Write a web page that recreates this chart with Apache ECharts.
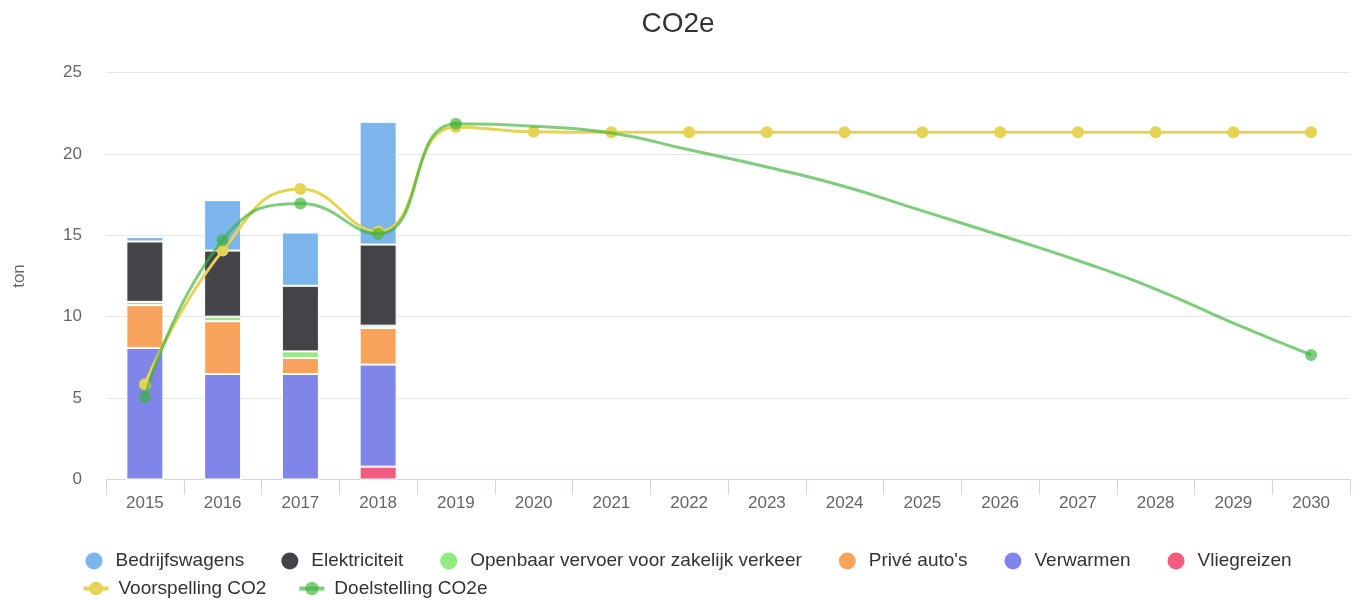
<!DOCTYPE html>
<html>
<head>
<meta charset="utf-8">
<script src="https://cdn.jsdelivr.net/npm/echarts@6/dist/echarts.min.js"></script>
<style>
html,body{margin:0;padding:0;background:#fff;}
#chart{width:1356px;height:601px;}
</style>
</head>
<body>
<div id="chart"></div>
<script>
const years = ['2015','2016','2017','2018','2019','2020','2021','2022','2023','2024','2025','2026','2027','2028','2029','2030'];

const bedrijfswagens = [0.27, 3.10, 3.27, 7.54];
const elektriciteit  = [3.71, 4.06, 4.03, 4.98];
const openbaarVervoer = [0.20, 0.28, 0.40, 0.15];
const priveAutos     = [2.63, 3.24, 0.99, 2.24];
const verwarmen      = [8.08, 6.48, 6.48, 6.27];
const vliegreizen    = [0, 0, 0, 0.79];

const voorspellingCO2 = [5.85, 14.06, 17.84, 15.23, 21.65, 21.36, 21.33, 21.33, 21.33, 21.33, 21.33, 21.33, 21.33, 21.33, 21.33, 21.33];
const doelstellingCO2e = [5.07, 14.70, 16.95, 15.09, 21.85, 21.70, 21.28, 20.25, 19.20, 18.00, 16.50, 15.00, 13.45, 11.70, 9.60, 7.65];

const yTicks = { min: 0, max: 25, interval: 5 };

const barNames = ['Bedrijfswagens', 'Elektriciteit', 'Openbaar vervoer voor zakelijk verkeer', "Privé auto's", 'Verwarmen', 'Vliegreizen'];
const lineNames = ['Voorspelling CO2', 'Doelstelling CO2e'];

const FONT = '"Liberation Sans", Arial, Helvetica, sans-serif';

function barSeries(name, data, color) {
  return {
    name: name,
    type: 'bar',
    stack: 'co2',
    data: data,
    barWidth: 37,
    itemStyle: { color: color, borderColor: '#ffffff', borderWidth: 1 },
    emphasis: { disabled: true },
    z: 2
  };
}

const lastIdx = doelstellingCO2e.length - 1;
const greenData = doelstellingCO2e.map((v, i) => (i <= 4 || i === lastIdx) ? v : { value: v, symbol: 'none' });

const chart = echarts.init(document.getElementById('chart'), null, { renderer: 'canvas' });
chart.setOption({
  animation: false,
  backgroundColor: '#ffffff',
  textStyle: { fontFamily: FONT },
  title: {
    text: 'CO2e',
    left: 'center',
    top: 5,
    textStyle: { fontFamily: FONT, fontSize: 28, fontWeight: 'normal', color: '#333333' }
  },
  legend: [
    {
      data: barNames,
      left: 85.5,
      top: 551.5,
      orient: 'horizontal',
      icon: 'circle',
      itemWidth: 17,
      itemHeight: 17,
      itemGap: 37,
      padding: 0,
      itemStyle: { borderWidth: 0 },
      textStyle: { fontFamily: FONT, fontSize: 19, color: '#333333', padding: [0, 0, 0, 8] }
    },
    {
      data: lineNames,
      left: 81.5,
      top: 579,
      orient: 'horizontal',
      itemWidth: 25,
      itemHeight: 17,
      itemGap: 31,
      padding: 0,
      lineStyle: { width: 4 },
      textStyle: { fontFamily: FONT, fontSize: 19, color: '#333333', padding: [0, 0, 0, 5] }
    }
  ],
  grid: { left: 106, right: 6, top: 72.5, bottom: 121.5, containLabel: false, outerBoundsMode: 'none' },
  xAxis: {
    type: 'category',
    data: years,
    boundaryGap: true,
    axisLine: { show: true, lineStyle: { color: '#ccd6eb', width: 1 } },
    axisTick: { show: true, alignWithLabel: false, length: 15, lineStyle: { color: '#ccd6eb', width: 1 } },
    axisLabel: { color: '#666666', fontSize: 17, fontFamily: FONT, margin: 15, interval: 0 },
    splitLine: { show: false }
  },
  yAxis: {
    type: 'value',
    min: yTicks.min,
    max: yTicks.max,
    interval: yTicks.interval,
    name: 'ton',
    nameLocation: 'middle',
    nameGap: 78,
    nameTextStyle: { color: '#666666', fontSize: 17, fontFamily: FONT },
    axisLine: { show: false },
    axisTick: { show: false },
    axisLabel: { color: '#666666', fontSize: 17, fontFamily: FONT, margin: 24 },
    splitLine: { show: true, lineStyle: { color: '#e6e6e6', width: 1 } }
  },
  series: [
    barSeries('Vliegreizen', vliegreizen, '#f15c80'),
    barSeries('Verwarmen', verwarmen, '#8085e9'),
    barSeries("Privé auto's", priveAutos, '#f7a35c'),
    barSeries('Openbaar vervoer voor zakelijk verkeer', openbaarVervoer, '#90ed7d'),
    barSeries('Elektriciteit', elektriciteit, '#434348'),
    barSeries('Bedrijfswagens', bedrijfswagens, '#7cb5ec'),
    {
      name: 'Voorspelling CO2',
      type: 'line',
      data: voorspellingCO2,
      smooth: true,
      symbol: 'circle',
      symbolSize: 12,
      showAllSymbol: true,
      lineStyle: { color: '#e4d354', width: 3 },
      itemStyle: { color: '#e4d354' },
      emphasis: { disabled: true },
      z: 3
    },
    {
      name: 'Doelstelling CO2e',
      type: 'line',
      data: greenData,
      smooth: true,
      symbol: 'circle',
      symbolSize: 12,
      showAllSymbol: true,
      lineStyle: { color: '#37b237', width: 3, opacity: 0.65 },
      itemStyle: { color: '#37b237', opacity: 0.65 },
      emphasis: { disabled: true },
      z: 4
    }
  ]
});
</script>
</body>
</html>
